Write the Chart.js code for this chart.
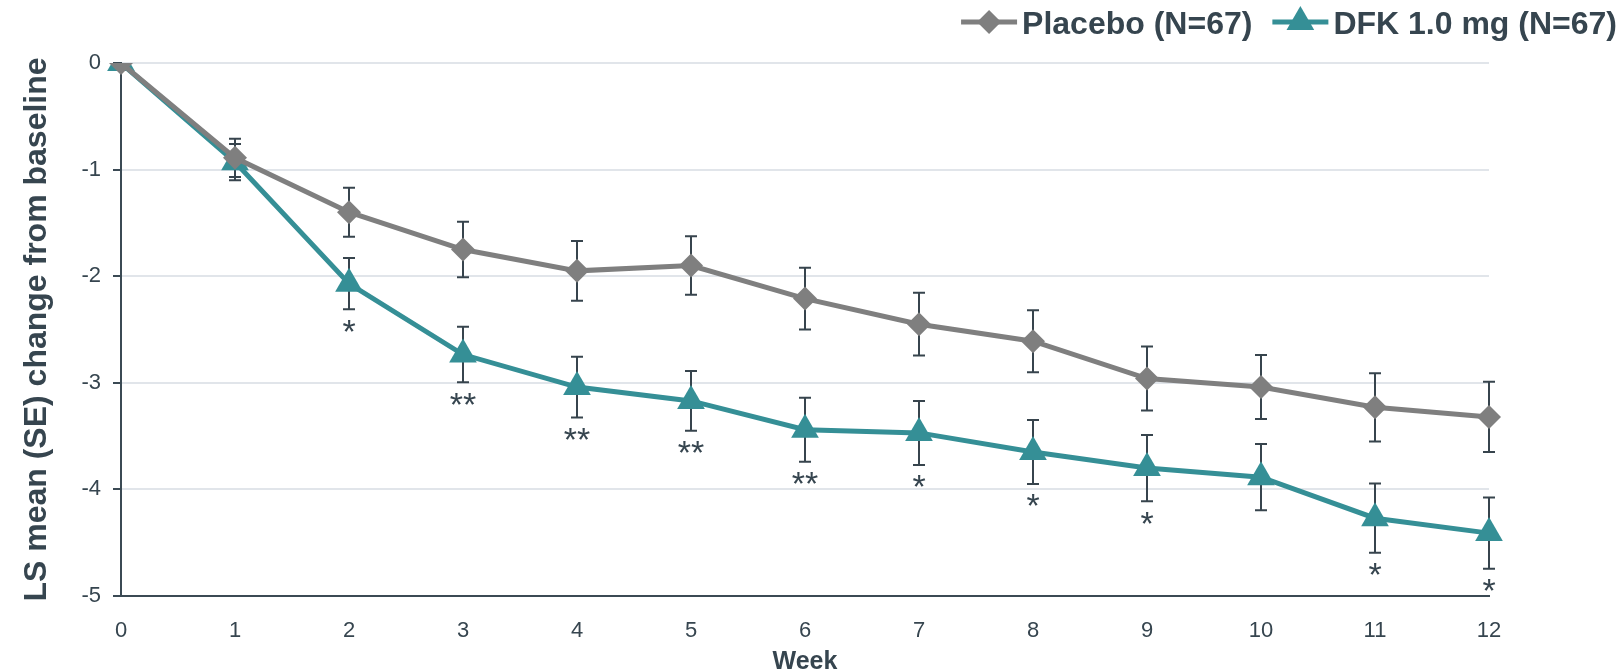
<!DOCTYPE html>
<html>
<head>
<meta charset="utf-8">
<script src="https://cdn.jsdelivr.net/npm/chart.js@4.4.1/dist/chart.umd.min.js"></script>
<style>
  html, body { margin: 0; padding: 0; background: #fff; }
  #wrap { width: 1622px; height: 671px; }
</style>
</head>
<body>
<div id="wrap"><canvas id="myChart"></canvas></div>
<script>
// weeks on the x axis
const weeks = ['0', '1', '2', '3', '4', '5', '6', '7', '8', '9', '10', '11', '12'];
// LS mean change from baseline and SE
const placeboMean = [0, -0.89, -1.40, -1.75, -1.95, -1.90, -2.21, -2.45, -2.61, -2.96, -3.04, -3.23, -3.32];
const placeboSE   = [0, 0.18, 0.23, 0.26, 0.28, 0.275, 0.29, 0.295, 0.29, 0.30, 0.30, 0.32, 0.33];
const dfkMean = [0, -0.93, -2.07, -2.735, -3.04, -3.17, -3.44, -3.47, -3.65, -3.80, -3.885, -4.27, -4.41];
const dfkSE   = [0, 0.17, 0.24, 0.26, 0.285, 0.28, 0.30, 0.30, 0.30, 0.31, 0.31, 0.325, 0.335];
// significance marks under the DFK points
const dfkSig = ['', '', '*', '**', '**', '**', '**', '*', '*', '*', '', '*', '*'];
const yTicks = [0, -1, -2, -3, -4, -5];

const darkText = '#36454f';
const grayCol = '#7f7f7f';
const tealCol = '#358f96';

const errorBars = {
  id: 'errorBars',
  beforeDatasetsDraw(chart) {
    const ctx = chart.ctx;
    const x = chart.scales.x, y = chart.scales.y;
    const sets = [[placeboMean, placeboSE], [dfkMean, dfkSE]];
    ctx.save();
    ctx.strokeStyle = '#37444d';
    ctx.lineWidth = 2;
    sets.forEach(function(s) {
      s[0].forEach(function(m, i) {
        if (!s[1][i]) return;
        const px = x.getPixelForValue(i);
        const top = y.getPixelForValue(m + s[1][i]);
        const bot = y.getPixelForValue(m - s[1][i]);
        ctx.beginPath();
        ctx.moveTo(px, top); ctx.lineTo(px, bot);
        ctx.moveTo(px - 6, top); ctx.lineTo(px + 6, top);
        ctx.moveTo(px - 6, bot); ctx.lineTo(px + 6, bot);
        ctx.stroke();
      });
    });
    ctx.restore();
  },
  afterDatasetsDraw(chart) {
    const ctx = chart.ctx;
    const x = chart.scales.x, y = chart.scales.y;
    ctx.save();
    ctx.fillStyle = darkText;
    ctx.font = '34px Arial';
    ctx.textAlign = 'center';
    ctx.textBaseline = 'top';
    dfkSig.forEach(function(t, i) {
      if (!t) return;
      const px = x.getPixelForValue(i);
      const py = y.getPixelForValue(dfkMean[i] - dfkSE[i]);
      ctx.fillText(t, px, py + 7);
    });
    ctx.restore();
  }
};

const lineLegend = {
  id: 'lineLegend',
  afterDraw(chart) {
    const ctx = chart.ctx;
    const items = chart.data.datasets;
    ctx.save();
    ctx.font = 'bold 32px Arial';
    ctx.textBaseline = 'alphabetic';
    const sample = 56, gapText = 5, gapItem = 20;
    let total = 0;
    items.forEach(function(d, i) {
      total += sample + gapText + ctx.measureText(d.label).width + (i ? gapItem : 0);
    });
    let cx = chart.width - 5 - total;
    const cy = 22;
    items.forEach(function(d, i) {
      if (i) cx += gapItem;
      ctx.strokeStyle = d.borderColor;
      ctx.lineWidth = 5;
      ctx.beginPath();
      ctx.moveTo(cx, cy); ctx.lineTo(cx + sample, cy);
      ctx.stroke();
      ctx.fillStyle = d.pointBackgroundColor;
      Chart.helpers.drawPoint(ctx, {pointStyle: d.pointStyle, radius: d.pointRadius, rotation: 0, borderWidth: 0}, cx + sample / 2, cy);
      cx += sample + gapText;
      ctx.fillStyle = darkText;
      ctx.fillText(d.label, cx, cy + 12);
      cx += ctx.measureText(d.label).width;
    });
    ctx.restore();
  }
};

const ctx2 = document.getElementById('myChart');
const lineChart = new Chart(ctx2, {
  type: 'line',
  data: {
    labels: weeks,
    datasets: [{
      label: 'Placebo (N=67)',
      data: placeboMean,
      borderColor: grayCol,
      backgroundColor: grayCol,
      pointBackgroundColor: grayCol,
      pointBorderColor: grayCol,
      pointStyle: 'rectRot',
      pointRadius: 12,
      pointBorderWidth: 0,
      borderWidth: 5,
      tension: 0
    }, {
      label: 'DFK 1.0 mg (N=67)',
      data: dfkMean,
      borderColor: tealCol,
      backgroundColor: tealCol,
      pointBackgroundColor: tealCol,
      pointBorderColor: tealCol,
      pointStyle: 'triangle',
      pointRadius: 16,
      pointBorderWidth: 0,
      borderWidth: 5,
      tension: 0
    }]
  },
  options: {
    responsive: true,
    maintainAspectRatio: false,
    animation: false,
    layout: { padding: { top: 63, right: 133, left: 0, bottom: 0 } },
    plugins: {
      legend: { display: false },
      tooltip: { enabled: false }
    },
    scales: {
      x: {
        offset: false,
        grid: { display: false },
        border: { display: true, color: '#3b4a54', width: 2 },
        ticks: { color: darkText, font: { size: 22, family: 'Arial' }, padding: 14, maxRotation: 0 },
        title: { display: true, text: 'Week', color: darkText, font: { size: 25, weight: 'bold', family: 'Arial' }, padding: { top: 0, bottom: -6 } },
        afterFit: function(s) { s.height = 75; }
      },
      y: {
        min: -5,
        max: 0,
        afterBuildTicks: function(s) { s.ticks = yTicks.map(function(v) { return { value: v }; }); },
        grid: { color: '#e1e5ea', lineWidth: 2, tickColor: '#3b4a54', tickLength: 8 },
        border: { display: true, color: '#3b4a54', width: 2 },
        ticks: { color: darkText, font: { size: 22, family: 'Arial' }, padding: 12 },
        title: { display: true, text: 'LS mean (SE) change from baseline', color: darkText, font: { size: 32, weight: 'bold', family: 'Arial' }, padding: { top: 18, bottom: 0 } },
        afterFit: function(s) { s.width = 121; }
      }
    }
  },
  plugins: [errorBars, lineLegend]
});
</script>
</body>
</html>
